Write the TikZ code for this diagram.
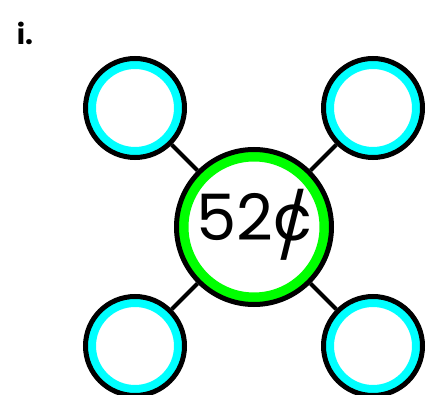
\documentclass[tikz,border=0pt]{standalone}
\usepackage{fontspec}
\setmainfont{Poppins}
\usepackage{tikz}
\definecolor{CoinCyan}{HTML}{00FFFF}
\definecolor{CoinGreen}{HTML}{00FF00}
\newcommand{\slashcent}{\ooalign{c\cr\hidewidth\raisebox{-0.13em}{/}\hidewidth}}
\begin{document}
\begin{tikzpicture}[
  x=1pt,y=-1pt,
  part/.style={circle,draw=black,line width=5pt,fill=white,inner sep=0pt,
    minimum size=99pt,
    path picture={\draw[CoinCyan,line width=21pt]
      (path picture bounding box.center) circle (49.5pt);}},
  whole/.style={circle,draw=black,line width=5pt,fill=white,inner sep=0pt,
    minimum size=155pt,font=\fontsize{64}{64}\selectfont,
    path picture={\draw[CoinGreen,line width=24pt]
      (path picture bounding box.center) circle (77.5pt);}},
  link/.style={line width=4pt,color=black}
]
  \useasboundingbox (0,0) rectangle (439,395);
  \node[font=\fontsize{28}{28}\selectfont\bfseries] (label) at (25,33) {i.};
  \node[whole] (total) at (254,227) {52\slashcent};
  \node[part] (tl) at (135,108) {};
  \node[part] (tr) at (373,108) {};
  \node[part] (bl) at (135,346) {};
  \node[part] (br) at (373,346) {};
  \foreach \x in {tl,tr,bl,br}
    {\draw[link] (total) -- (\x);}
\end{tikzpicture}
\end{document}
